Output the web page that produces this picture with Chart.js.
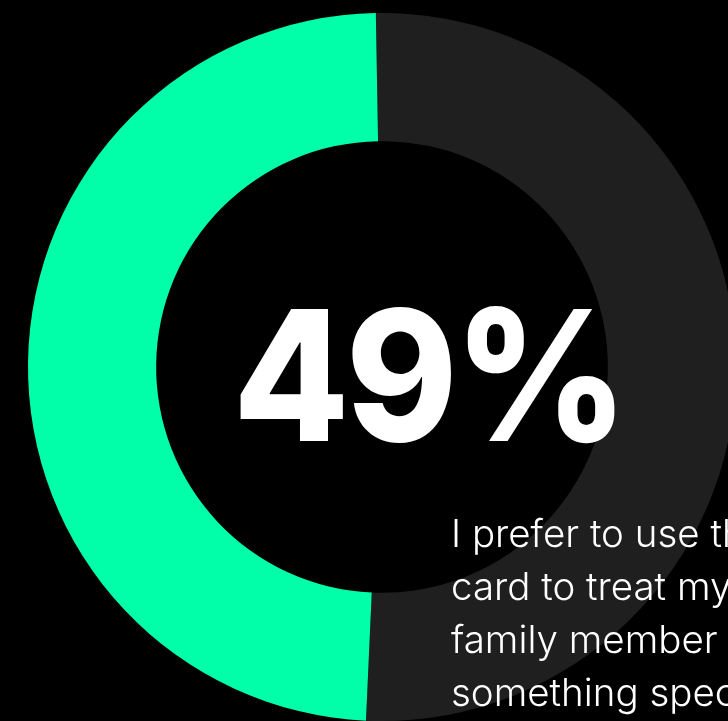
<!DOCTYPE html>
<html>
<head>
<meta charset="utf-8">
<title>49%</title>
<script src="https://cdn.jsdelivr.net/npm/chart.js@4/dist/chart.umd.min.js"></script>
<style>
  html, body { margin: 0; padding: 0; background: #000; overflow: hidden; }
  #wrap { width: 760px; height: 721px; }
</style>
</head>
<body>
<div id="wrap"><canvas id="ring" width="760" height="721"></canvas></div>
<script>
(function () {
  'use strict';

  // 回答の割合（残り → 該当）
  const labels = ['Other', 'Prefer card'];
  const shares = [51, 49];
  const colors = ['#1f1f1f', '#00ffa8'];

  const headline = '49%';
  const caption = [
    'I prefer to use the',
    'card to treat my',
    'family member to',
    'something special'
  ];

  // 中央の数字と説明文
  const textPlugin = {
    id: 'centerText',
    afterDraw(chart) {
      const ctx = chart.ctx;
      ctx.save();
      ctx.fillStyle = '#ffffff';
      ctx.textAlign = 'left';
      ctx.textBaseline = 'alphabetic';

      // 数字は少し詰めて横幅を抑える
      ctx.save();
      ctx.translate(233, 441);
      ctx.scale(0.93, 1);
      ctx.font = '800 182px Inter';
      ctx.letterSpacing = '-4px';
      ctx.fillText(headline, 0, 0);
      ctx.restore();

      ctx.font = '300 38.5px Inter';
      ctx.letterSpacing = '0px';
      caption.forEach((line, i) => {
        ctx.fillText(line, 451, 547 + i * 53);
      });
      ctx.restore();
    }
  };

  new Chart(document.getElementById('ring'), {
    type: 'doughnut',
    data: {
      labels: labels,
      datasets: [{
        data: shares,
        backgroundColor: colors,
        borderWidth: 0,
        hoverOffset: 0
      }]
    },
    options: {
      responsive: false,
      animation: false,
      devicePixelRatio: 1,
      rotation: -1,
      cutout: '63.8%',
      layout: { padding: { left: 28, top: 13, right: 24, bottom: 0 } },
      plugins: {
        legend: { display: false },
        tooltip: { enabled: false }
      }
    },
    plugins: [textPlugin]
  });
})();
</script>
</body>
</html>
